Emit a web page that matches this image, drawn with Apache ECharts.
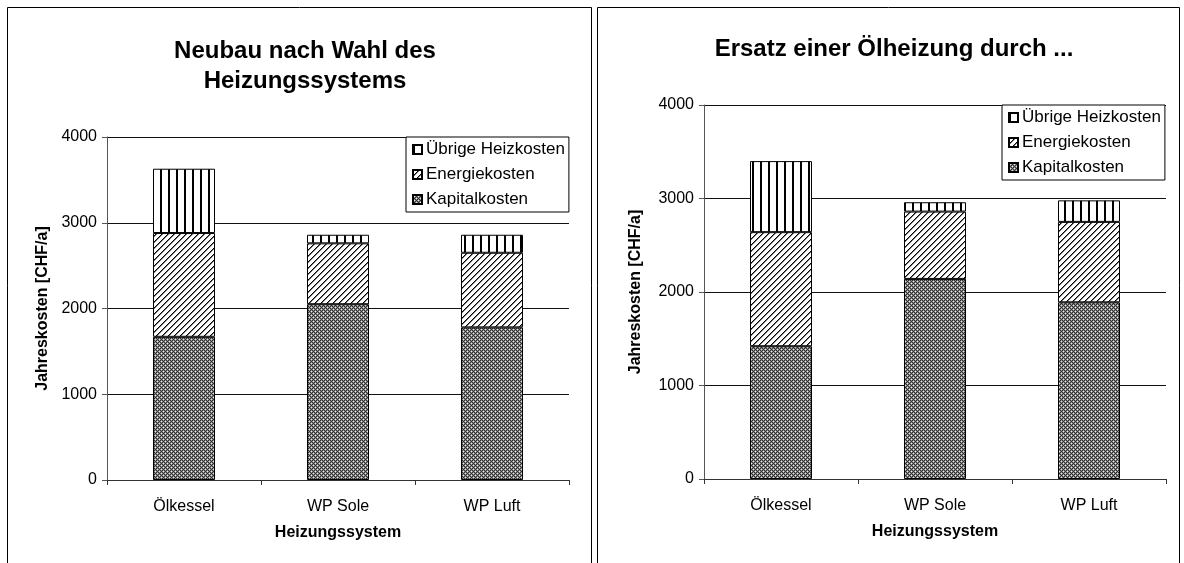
<!DOCTYPE html>
<html>
<head>
<meta charset="utf-8">
<script src="https://cdn.jsdelivr.net/npm/echarts@6/dist/echarts.min.js"></script>
<style>
  html, body { margin: 0; padding: 0; background: #fff; }
  #chart { width: 1184px; height: 563px; }
</style>
</head>
<body>
<div id="chart"></div>
<script>
// data
const categories = ['Ölkessel', 'WP Sole', 'WP Luft'];
const seriesNames = ['Kapitalkosten', 'Energiekosten', 'Übrige Heizkosten'];

// left: Neubau nach Wahl des Heizungssystems
const neubauKapital = [1670, 2050, 1780];
const neubauEnergie = [1210, 710, 870];
const neubauUebrige = [750, 100, 210];

// right: Ersatz einer Ölheizung durch ...
const ersatzKapital = [1420, 2140, 1890];
const ersatzEnergie = [1220, 720, 860];
const ersatzUebrige = [760, 100, 230];

const yTicks = { min: 0, max: 4000, interval: 1000 };

const FONT = '"Liberation Sans", Arial, sans-serif';

// small canvas tiles used as fill patterns
function tile(w, h, draw) {
  const c = document.createElement('canvas');
  c.width = w;
  c.height = h;
  const ctx = c.getContext('2d');
  ctx.fillStyle = '#fff';
  ctx.fillRect(0, 0, w, h);
  draw(ctx);
  return c;
}

const stripes = tile(8, 4, ctx => {
  ctx.fillStyle = '#000';
  ctx.fillRect(0, 0, 2, 4);
});

const hatch = tile(6, 6, ctx => {
  for (let i = 0; i < 6; i++) {
    ctx.fillStyle = '#000';
    ctx.fillRect(i, 5 - i, 1, 1);
    ctx.fillStyle = '#777';
    ctx.fillRect((i + 1) % 6, 5 - i, 1, 1);
  }
});

const checker = tile(4, 4, ctx => {
  for (let x = 0; x < 4; x++) {
    for (let y = 0; y < 4; y++) {
      ctx.fillStyle = (x + y) % 2 === 0 ? '#2e2e2e' : '#8c8c8c';
      ctx.fillRect(x, y, 1, 1);
    }
  }
  ctx.fillStyle = '#e8e8e8';
  ctx.fillRect(1, 1, 1, 1);
  ctx.fillRect(3, 3, 1, 1);
});

const fills = [
  { image: checker, repeat: 'repeat' },
  { image: hatch, repeat: 'repeat' },
  { image: stripes, repeat: 'repeat' },
];

function bars(gridIdx, values) {
  return values.map((vals, i) => ({
    name: seriesNames[i],
    type: 'bar',
    stack: 'kosten' + gridIdx,
    xAxisIndex: gridIdx,
    yAxisIndex: gridIdx,
    barWidth: 62,
    data: vals,
    itemStyle: { color: fills[i], borderColor: '#000', borderWidth: 1 },
  }));
}

function xAxis(gridIdx) {
  return {
    type: 'category',
    gridIndex: gridIdx,
    data: categories,
    name: 'Heizungssystem',
    nameLocation: 'middle',
    nameGap: 45,
    nameTextStyle: { fontFamily: FONT, fontSize: 16, fontWeight: 'bold', color: '#000' },
    axisLine: { lineStyle: { color: '#333', width: 1 } },
    axisTick: { show: true, length: 5, lineStyle: { color: '#333' } },
    axisLabel: { fontFamily: FONT, fontSize: 16, color: '#000', margin: 19 },
  };
}

function yAxis(gridIdx, gap) {
  return {
    type: 'value',
    gridIndex: gridIdx,
    min: yTicks.min,
    max: yTicks.max,
    interval: yTicks.interval,
    name: 'Jahreskosten [CHF/a]',
    nameLocation: 'middle',
    nameGap: gap,
    nameTextStyle: { fontFamily: FONT, fontSize: 16, fontWeight: 'bold', color: '#000' },
    axisLine: { show: true, lineStyle: { color: '#555' } },
    axisTick: { show: true, length: 5, lineStyle: { color: '#555' } },
    axisLabel: { fontFamily: FONT, fontSize: 16, color: '#000', margin: 10, formatter: v => String(v) },
    splitLine: { lineStyle: { color: '#111', width: 1 } },
  };
}

function legend(left, top) {
  return {
    orient: 'vertical',
    left: left,
    top: top,
    data: seriesNames.slice().reverse(),
    selectedMode: false,
    backgroundColor: '#fff',
    borderColor: '#000',
    borderWidth: 1,
    padding: [4, 4, 4, 6],
    itemWidth: 9,
    itemHeight: 9,
    itemGap: 8,
    icon: 'rect',
    textStyle: { fontFamily: FONT, fontSize: 17, color: '#000', padding: [0, 0, 0, -1] },
  };
}

const chart = echarts.init(document.getElementById('chart'), null, { renderer: 'canvas' });

chart.setOption({
  backgroundColor: '#fff',
  animation: false,
  title: [
    {
      text: 'Neubau nach Wahl des\nHeizungssystems',
      left: 300,
      top: 31,
      textAlign: 'center',
      textStyle: { fontFamily: FONT, fontSize: 24, fontWeight: 'bold', color: '#000', lineHeight: 30 },
    },
    {
      text: 'Ersatz einer Ölheizung durch ...',
      left: 889,
      top: 32,
      textAlign: 'center',
      textStyle: { fontFamily: FONT, fontSize: 24, fontWeight: 'bold', color: '#000' },
    },
  ],
  legend: [legend(406, 137), legend(1002, 105)],
  grid: [
    { left: 107, right: 615, top: 137, bottom: 83 },
    { left: 704, right: 18, top: 105, bottom: 84 },
  ],
  xAxis: [xAxis(0), xAxis(1)],
  yAxis: [yAxis(0, 56), yAxis(1, 60)],
  series: [
    ...bars(0, [neubauKapital, neubauEnergie, neubauUebrige]),
    ...bars(1, [ersatzKapital, ersatzEnergie, ersatzUebrige]),
  ],
  graphic: [
    { type: 'rect', silent: true, shape: { x: 7.5, y: 7.5, width: 584, height: 600 },
      style: { fill: 'none', stroke: '#000', lineWidth: 1 } },
    { type: 'rect', silent: true, shape: { x: 597.5, y: 7.5, width: 582, height: 600 },
      style: { fill: 'none', stroke: '#000', lineWidth: 1 } },
  ],
});
</script>
</body>
</html>
